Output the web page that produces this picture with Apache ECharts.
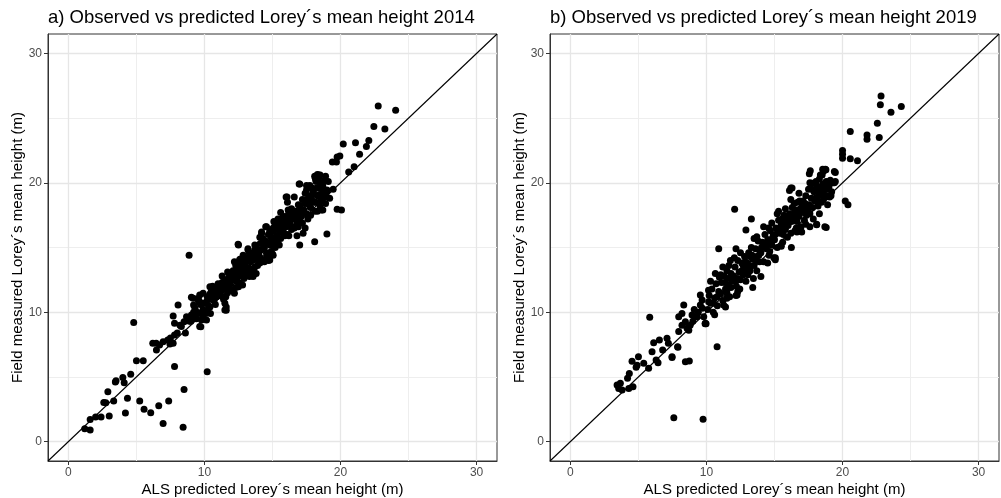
<!DOCTYPE html>
<html>
<head>
<meta charset="utf-8">
<script src="https://cdn.jsdelivr.net/npm/echarts@6/dist/echarts.min.js"></script>
<style>html,body{margin:0;padding:0;background:#fff;}#c{width:1001px;height:498px;}</style>
</head>
<body>
<div id="c"></div>
<script>
// ---- data ----
const titles = ['a) Observed vs predicted Lorey´s mean height 2014', 'b) Observed vs predicted Lorey´s mean height 2019'];
const xName = 'ALS predicted Lorey´s mean height (m)';
const yName = 'Field measured Lorey´s mean height (m)';
const majorTicks = [0, 10, 20, 30];
const minorTicks = [5, 15, 25];
const axisRange = [-1.5, 31.5];
const refLine = [-1.5, 31.5]; // y = x reference line ends

// [ALS predicted, field measured] for 2014
const points2014 = [
 [1.2,1.0],[1.6,0.9],[1.6,1.7],[2.0,1.9],[2.4,1.9],[3.0,1.97],[2.6,3.03],[2.75,3.0],[3.33,3.13],[2.9,3.85],
 [3.45,4.6],[3.5,4.7],[4.0,4.96],[4.1,4.55],[4.58,5.2],[5.0,6.25],[5.5,6.25],[4.8,9.2],[4.34,3.34],[4.19,2.2],
 [5.24,3.13],[5.56,2.5],[6.05,2.23],[6.64,2.77],[7.37,3.13],[6.96,1.4],[8.43,1.1],[8.5,4.03],[7.8,5.8],[10.2,5.4],
 [6.2,7.6],[6.45,7.6],[6.7,7.46],[6.47,7.08],[6.96,7.72],[7.3,7.85],[7.46,7.54],[7.7,7.6],[7.8,8.24],[8.0,8.4],
 [7.7,9.7],[8.06,10.56],[8.6,8.4],[7.8,9.14],[8.2,9.0],[8.5,9.27],[8.68,9.65],[9.04,9.78],[9.4,10.04],[9.65,8.9],
 [9.16,11.07],[9.65,11.33],[9.9,10.7],[9.9,9.78],[10.15,9.4],[8.87,14.4],[8.3,8.9],[8.9,9.3],[7.5,8.0],
 [9.04,11.15],[9.46,11.04],[9.2,10.55],[9.6,10.8],[9.9,11.46],[9.78,9.4],[9.73,8.88],[10.1,9.9],[10.44,9.9],[10.4,10.4],
 [10.15,10.8],[10.64,10.94],[10.5,11.6],[10.9,11.46],[10.4,11.97],[11.0,12.2],[11.25,11.7],[11.5,10.17],[11.5,10.7],[11.57,11.2],
 [11.6,11.84],[11.86,12.23],[12.1,12.5],[12.0,13.0],[12.35,12.75],[12.6,12.23],[12.5,11.97],[12.2,11.46],[12.7,13.26],[13.1,13.0],
 [13.3,12.75],[13.3,13.4],[13.6,12.9],[13.7,13.5],[12.6,14.03],[12.84,14.4],[12.5,15.2],[13.2,14.8],[13.33,14.55],[13.58,14.03],
 [13.95,14.3],[14.07,13.8],[14.3,14.0],[14.56,14.55],[14.8,14.03],[15.05,14.4],[15.0,15.45],[14.07,15.8],[14.2,16.1],[14.56,16.6],
 [14.8,16.1],[15.05,16.5],[15.3,16.9],[15.5,17.1],[15.2,15.8],[15.4,15.7],[15.54,16.2],[15.8,16.1],[16.0,16.6],[16.3,17.1],
 [16.0,17.4],[16.5,17.6],[16.15,17.9],[16.0,18.9],[16.5,16.6],[16.8,16.9],[17.0,17.1],[17.25,16.1],[17.1,17.4],[17.25,17.9],
 [17.5,17.6],[17.75,18.15],[17.5,18.7],[17.87,18.7],[18.0,19.2],[17.5,19.45],[17.75,19.8],[18.2,20.2],[18.5,20.0],[18.7,19.7],
 [18.7,19.2],[18.85,20.2],[19.0,19.45],[18.6,18.7],[18.2,18.5],[18.5,18.15],[18.7,17.9],[18.1,17.8],
 [9.1,9.6],[9.3,10.3],[9.5,9.9],[9.7,10.6],[9.9,10.2],[9.2,10.0],[9.6,10.9],[9.8,10.0],[9.4,9.5],[9.0,9.3],
 [10.1,10.7],[10.2,11.2],[10.3,10.5],[10.5,11.0],[10.6,11.5],[10.7,10.9],[10.8,11.8],[10.9,11.2],[10.4,11.4],[10.6,12.0],[10.2,10.1],[10.8,10.6],[11.0,11.5],
 [11.1,12.0],[11.2,11.3],[11.3,12.3],[11.4,11.8],[11.5,12.5],[11.6,12.0],[11.7,11.5],[11.8,12.7],[11.9,12.2],[11.3,12.8],[11.4,11.0],[11.7,13.1],[11.9,11.8],[11.1,11.6],
 [12.0,12.6],[12.1,13.2],[12.2,12.9],[12.3,13.6],[12.4,12.4],[12.5,13.1],[12.6,13.8],[12.7,12.8],[12.8,13.4],[12.9,12.6],[12.3,11.9],[12.6,14.1],[12.9,14.0],[12.2,13.9],[12.8,12.1],[12.95,13.3],
 [13.0,13.7],[13.1,14.2],[13.2,13.1],[13.3,14.6],[13.4,13.9],[13.5,14.4],[13.6,13.3],[13.7,14.8],[13.8,14.1],[13.9,13.6],[13.2,14.9],[13.5,12.9],[13.7,15.2],[13.9,14.6],[13.1,13.3],[13.8,13.0],
 [14.0,14.5],[14.1,15.3],[14.2,14.0],[14.3,15.7],[14.4,14.9],[14.5,15.5],[14.6,14.3],[14.7,16.0],[14.8,15.2],[14.9,14.7],[14.2,16.2],[14.5,16.6],[14.8,16.3],[14.4,13.9],[14.9,15.8],[14.1,14.2],[14.7,14.0],
 [15.0,15.5],[15.1,16.3],[15.2,16.8],[15.3,15.9],[15.4,17.2],[15.5,16.5],[15.6,15.7],[15.7,16.9],[15.8,17.4],[15.9,15.9],[15.6,17.7],[15.3,15.3],[15.9,16.8],[15.1,17.0],[15.5,15.2],[15.8,16.2],[15.2,15.0],
 [16.0,17.2],[16.1,16.0],[16.2,17.6],[16.3,16.7],[16.4,18.0],[16.5,17.2],[16.6,16.5],[16.7,17.8],[16.8,17.0],[16.9,18.3],[16.1,18.5],[16.4,16.4],[16.6,18.9],[16.9,16.6],[16.3,17.9],[16.8,15.9],[16.2,15.9],
 [17.0,18.2],[17.1,17.5],[17.2,18.7],[17.3,17.9],[17.4,19.2],[17.5,18.4],[17.6,17.2],[17.7,19.0],[17.8,18.1],[17.9,19.6],[17.2,16.9],[17.5,19.8],[17.8,17.5],[17.4,16.5],[17.9,18.6],
 [18.0,19.3],[18.1,18.5],[18.2,20.1],[18.3,19.0],[18.4,20.4],[18.5,19.6],[18.6,18.6],[18.7,20.0],[18.8,19.1],[18.9,20.5],[18.3,17.8],[18.6,17.9],[18.9,18.4],[18.5,20.6],
 [19.0,19.4],[19.2,18.8],[19.1,20.1],[19.46,19.5],[18.3,20.65],[18.15,20.35],[19.0,19.3],[18.85,18.9],
 [12.4,13.5],[12.65,13.0],[13.05,13.9],[13.25,14.0],[13.65,14.4],[13.85,14.9],[14.15,14.8],[14.35,15.2],[14.65,15.3],[15.15,15.6],
 [15.35,16.5],[15.65,16.4],[15.95,17.0],[16.25,16.9],[16.45,17.6],[16.75,17.4],[17.05,17.8],[17.35,18.4],[17.65,18.6],[17.95,19.1],
 [18.25,19.6],[18.45,19.1],[10.75,11.3],[11.25,12.1],[11.45,12.2],[11.75,12.3],
 [22.77,25.94],[24.05,25.6],[22.45,24.35],[23.26,24.15],[20.2,23.0],[21.1,23.1],[22.08,23.27],[21.9,22.8],[21.4,22.2],[19.75,22.0],
 [19.95,22.08],[19.4,21.6],[19.7,21.6],[21.0,21.25],[20.6,20.84],[19.75,17.96],[20.07,17.9],[19.0,16.05],[18.1,15.45],[17.0,15.2],
 [17.0,19.9],[18.1,20.5],[18.4,20.6],[12.47,15.25],[16.07,18.9],[16.96,19.9],[15.0,14.5],[11.6,10.4],[11.6,10.15],[13.57,12.75]
];

// [ALS predicted, field measured] for 2019
const points2019 = [
 [3.43,4.37],[3.55,4.1],[3.67,4.5],[3.8,3.98],[4.29,4.1],[4.6,4.24],[4.2,4.89],[4.33,5.27],[4.53,6.2],[4.9,5.9],
 [5.0,6.56],[5.39,6.05],[4.83,5.74],[5.75,5.66],[5.83,9.6],[6.0,6.95],[6.12,7.64],[6.54,7.85],[6.3,6.3],[6.44,6.1],
 [6.78,7.08],[7.1,7.98],[7.2,7.6],[7.47,6.56],[7.88,7.33],[7.96,8.5],[7.6,1.84],[9.75,1.72],[8.45,6.17],[8.74,6.22],
 [10.78,7.33],[7.96,9.65],[8.2,9.9],[8.45,9.27],[8.57,8.75],[8.2,9.0],[8.7,8.6],[8.8,9.0],[8.94,9.78],[8.33,10.56],
 [9.55,10.56],[9.68,10.94],[9.92,9.14],[9.8,9.65],[9.3,9.65],[9.55,11.33],[10.16,10.8],[10.53,10.69],[10.78,11.2],[11.26,10.56],
 [11.5,11.07],[12.25,11.33],[11.39,11.58],[9.97,9.1],[7.9,7.3],[7.47,6.5],[9.1,10.2],[9.4,10.0],[9.0,9.3],[9.7,10.3],
 [12.07,17.95],[13.3,17.2],[12.9,16.35],[10.9,14.9],[12.17,14.9],[16.24,15.0],[15.06,14.2],[15.06,14.05],[13.4,11.9],[12.17,11.3],
 [18.8,16.55],[18.1,16.8],[17.6,16.6],[17.0,16.2],[16.65,16.2],[14.57,16.5],[18.1,16.75],[18.7,16.6],
 [22.83,26.7],[22.78,26.04],[23.56,25.46],[24.32,25.9],[22.56,24.6],[22.7,23.5],[21.8,23.7],[21.8,23.37],[20.57,23.96],[20.0,22.5],
 [20.0,22.2],[20.0,21.9],[20.57,21.85],[21.1,21.7],[20.2,18.6],[20.4,18.3],
 [18.74,21.05],[19.4,20.87],[18.37,20.6],[19.47,20.1],[18.98,19.7],[18.6,19.2],[17.63,20.94],[17.56,20.7],[18.54,21.05],[18.78,21.0],
 [19.47,20.8],[19.0,20.0],[19.4,20.0],[16.29,19.6],[18.1,18.68],
 [10.1,10.2],[10.2,11.3],[10.3,10.7],[10.4,11.8],[10.5,10.0],[10.6,11.1],[10.7,12.2],[10.8,10.5],[10.9,11.6],[10.3,12.4],[10.6,9.8],[10.95,12.7],[10.15,11.7],
 [11.0,11.4],[11.1,12.3],[11.2,10.9],[11.3,12.8],[11.4,11.8],[11.5,13.2],[11.6,12.1],[11.7,11.2],[11.8,13.0],[11.9,12.4],[11.2,13.5],[11.5,11.5],[11.8,11.9],[11.05,12.9],[11.65,13.6],
 [12.0,12.8],[12.1,13.5],[12.2,12.0],[12.3,14.0],[12.4,13.1],[12.5,12.5],[12.6,13.8],[12.7,12.9],[12.8,14.3],[12.9,13.3],[12.3,12.6],[12.5,14.6],[12.7,13.6],[12.9,12.4],[12.05,14.2],[12.45,11.8],
 [13.0,13.8],[13.1,14.6],[13.2,13.2],[13.3,15.0],[13.4,14.1],[13.5,13.6],[13.6,14.9],[13.7,14.3],[13.8,15.5],[13.9,13.9],[13.2,14.3],[13.5,15.7],[13.7,13.2],[13.9,14.8],[13.05,12.9],[13.45,12.6],
 [14.0,14.6],[14.1,15.4],[14.2,13.9],[14.3,16.0],[14.4,14.9],[14.5,15.6],[14.6,14.4],[14.7,16.3],[14.8,15.2],[14.9,15.9],[14.2,16.6],[14.5,13.8],[14.8,16.9],[14.35,15.3],[14.65,14.7],[14.95,14.2],
 [15.0,15.6],[15.1,16.5],[15.2,15.0],[15.3,17.1],[15.4,16.1],[15.5,16.8],[15.6,15.4],[15.7,17.5],[15.8,16.4],[15.9,17.0],[15.2,17.6],[15.5,15.1],[15.8,18.0],[15.35,16.4],[15.65,16.0],[15.95,15.8],
 [16.0,16.7],[16.1,17.6],[16.2,16.1],[16.3,18.1],[16.4,17.2],[16.5,17.9],[16.6,16.5],[16.7,18.5],[16.8,17.4],[16.9,18.0],[16.2,18.7],[16.5,16.3],[16.8,19.2],[16.35,17.5],[16.65,17.0],[16.95,16.6],[16.1,19.4],
 [17.0,17.7],[17.1,18.6],[17.2,17.1],[17.3,19.0],[17.4,18.2],[17.5,19.5],[17.6,17.6],[17.7,18.8],[17.8,18.1],[17.9,19.3],[17.3,16.8],[17.6,20.0],[17.85,17.2],[17.15,18.0],[17.45,17.9],
 [18.0,18.8],[18.1,19.8],[18.2,18.2],[18.3,20.3],[18.4,19.2],[18.5,20.6],[18.6,18.7],[18.7,19.6],[18.8,20.1],[18.9,19.0],[18.3,17.6],[18.6,20.9],[18.9,18.3],[18.15,19.4],[18.45,18.5],
 [19.0,19.7],[19.1,20.2],[19.2,19.3],[19.3,20.0],[19.05,18.9],
 [12.6,13.2],[12.85,13.9],[13.15,13.6],[13.35,14.4],[13.65,14.0],[13.85,14.4],[14.05,15.0],[14.25,15.2],[14.45,15.2],[14.65,15.6],
 [14.85,15.6],[15.05,16.0],[15.25,16.3],[15.45,16.5],[15.55,17.2],[15.75,16.8],[15.85,17.3],[16.05,17.2],[16.25,17.0],[16.45,18.4],
 [16.55,17.6],[16.75,17.9],[16.85,18.6],[17.05,18.3],[17.25,18.4],[17.35,17.5],[17.55,18.3],[17.75,19.5],[17.95,18.6],[18.05,20.1],
 [18.25,19.0],[18.35,19.6],[18.55,19.9],[18.75,18.9],[18.85,19.5],[19.15,19.0],[11.35,12.3],[11.55,12.6],[11.85,12.5],[12.15,12.4],
 [10.65,13.0],[11.76,14.0],[13.7,15.84],[15.3,17.8],[16.2,19.6],[17.76,19.97],[9.9,9.1],[11.4,10.4],[12.3,11.6],[14.0,12.75]
];

const pointSets = [points2014, points2019];

// ---- chart ----
const gridLefts = [48, 550];
const grids = gridLefts.map(l => ({left: l, top: 34, width: 449, height: 427, show: true,
  borderColor: '#333333', borderWidth: 1, backgroundColor: '#ffffff', containLabel: false,
  outerBoundsMode: 'none'}));

function mainAxis(i, isX) {
  return {
    type: 'value', gridIndex: i, min: axisRange[0], max: axisRange[1],
    position: isX ? 'bottom' : 'left',
    name: isX ? xName : yName, nameLocation: 'middle', nameGap: isX ? 21 : 23,
    nameMoveOverlap: false,
    nameTextStyle: {color: '#000', fontSize: 15, fontFamily: 'Liberation Sans'},
    axisLine: {show: true, onZero: false, lineStyle: {color: '#333333', width: 1}},
    axisTick: {show: true, length: 4, customValues: majorTicks, lineStyle: {color: '#333333', width: 1}},
    axisLabel: {customValues: majorTicks, color: '#4d4d4d', fontSize: 12, margin: 6, fontFamily: 'Liberation Sans'},
    splitLine: {show: true, lineStyle: {color: '#e6e6e6', width: 1.3}},
    z: 1
  };
}
function minorAxis(i, isX) {
  return {
    type: 'value', gridIndex: i, min: axisRange[0], max: axisRange[1],
    position: isX ? 'top' : 'right',
    axisLine: {show: false, onZero: false}, axisLabel: {show: false},
    axisTick: {show: false, customValues: minorTicks},
    splitLine: {show: true, lineStyle: {color: '#eeeeee', width: 1}},
    z: 0
  };
}

const xAxes = [mainAxis(0, true), mainAxis(1, true), minorAxis(0, true), minorAxis(1, true)];
const yAxes = [mainAxis(0, false), mainAxis(1, false), minorAxis(0, false), minorAxis(1, false)];

const series = [];
pointSets.forEach((pts, i) => {
  series.push({
    type: 'scatter', xAxisIndex: i, yAxisIndex: i, data: pts,
    symbol: 'circle', symbolSize: 7, itemStyle: {color: '#000000', opacity: 1},
    silent: true, z: 3
  });
  series.push({
    type: 'line', xAxisIndex: i, yAxisIndex: i,
    data: refLine.map(v => [v, v]), showSymbol: false, symbol: 'none',
    lineStyle: {color: '#000000', width: 1.1}, silent: true, z: 4
  });
});

const chart = echarts.init(document.getElementById('c'), null, {renderer: 'canvas'});
chart.setOption({
  animation: false,
  backgroundColor: '#ffffff',
  textStyle: {fontFamily: 'Liberation Sans'},
  title: titles.map((t, i) => ({text: t, left: gridLefts[i], top: 8, padding: 0,
    textStyle: {color: '#000', fontSize: 18.5, fontWeight: 'normal', fontFamily: 'Liberation Sans'}})),
  grid: grids,
  xAxis: xAxes,
  yAxis: yAxes,
  series: series
});
</script>
</body>
</html>
